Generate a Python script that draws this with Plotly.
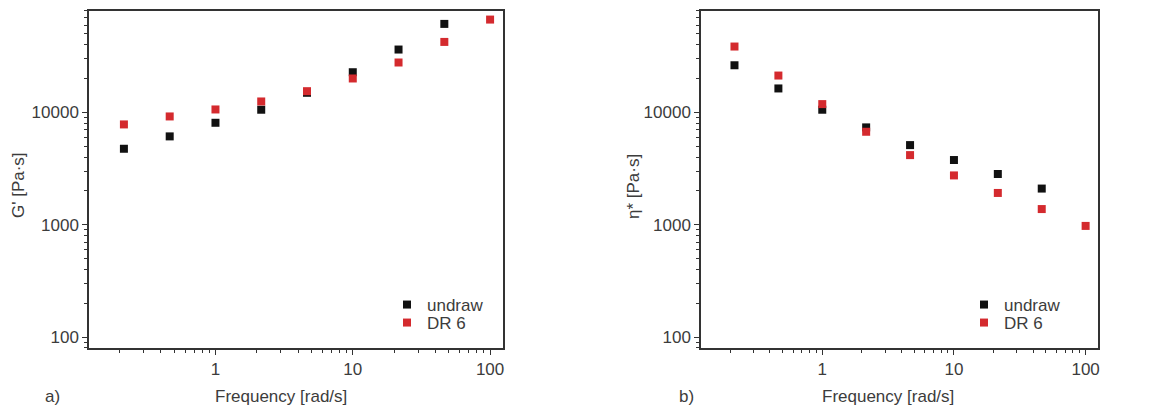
import plotly.graph_objects as go

freq = [0.2154, 0.4642, 1.0, 2.154, 4.642, 10.0, 21.54, 46.42, 100.0]
freq_undraw = freq[:8]

g_undraw = [4750, 6120, 8090, 10570, 14960, 22800, 36300, 61400]
g_dr6 = [7820, 9210, 10630, 12520, 15460, 20060, 27830, 42440, 67100]

eta_undraw = [26300, 16350, 10570, 7360, 5120, 3770, 2830, 2100]
eta_dr6 = [38600, 21300, 11860, 6730, 4170, 2750, 1920, 1380, 977]

series_names = ["undraw", "DR 6"]
y_titles = ["G' [Pa·s]", "η* [Pa·s]"]
x_title = "Frequency [rad/s]"
panel_labels = ["a)", "b)"]

BLACK = "#111111"
RED = "#d42a2e"
TXT = "#3c3c3c"
AX = "#333333"
FONT = "Liberation Sans, Arial, sans-serif"
FS = 17

W, H = 1160, 407

fig = go.Figure()

def add(x, y, name, color, xa, ya, legend):
    fig.add_trace(go.Scatter(
        x=x, y=y, mode="markers", name=name,
        marker=dict(symbol="square", size=8, color=color, line=dict(width=0)),
        xaxis=xa, yaxis=ya, legend=legend, showlegend=True))

add(freq_undraw, g_undraw, series_names[0], BLACK, "x", "y", "legend")
add(freq, g_dr6, series_names[1], RED, "x", "y", "legend2")
add(freq_undraw, eta_undraw, series_names[0], BLACK, "x2", "y2", "legend3")
add(freq, eta_dr6, series_names[1], RED, "x2", "y2", "legend4")

xdom1 = [89/W, 503/W]
xdom2 = [701/W, 1098/W]
ydom = [1 - 348/H, 1 - 11/H]

common = dict(
    type="log", showline=True, linecolor=AX, linewidth=1.5, mirror=True,
    ticks="outside", ticklen=5, tickwidth=1.2, tickcolor=AX,
    dtick=1, tickformat="d",
    minor=dict(ticks="outside", ticklen=3, tickwidth=1, tickcolor=AX, dtick="D1", showgrid=False),
    showgrid=False, zeroline=False, automargin=False,
    tickfont=dict(family=FONT, size=FS, color=TXT),
)

def xaxis(dom, anchor):
    return dict(domain=dom, anchor=anchor, range=[-0.921, 2.094], **common)

def yaxis(dom, anchor):
    return dict(domain=dom, anchor=anchor, range=[1.903, 4.903], **common)

def legend(xpix, ypix):
    return dict(
        x=xpix/W, xanchor="left", y=1 - ypix/H, yanchor="middle",
        bgcolor="rgba(0,0,0,0)", borderwidth=0, itemwidth=30,
        font=dict(family=FONT, size=FS, color=TXT),
        itemclick=False, itemdoubleclick=False,
    )

def label(text, xp, yp, angle=0):
    return dict(text=text, x=xp/W, y=1 - yp/H, xref="paper", yref="paper",
                xanchor="center", yanchor="middle",
                showarrow=False, textangle=angle,
                font=dict(family=FONT, size=FS, color=TXT))

fig.update_layout(
    width=W, height=H,
    margin=dict(l=0, r=0, t=0, b=0, autoexpand=False),
    paper_bgcolor="white", plot_bgcolor="white",
    xaxis=xaxis(xdom1, "y"), yaxis=yaxis(ydom, "x"),
    xaxis2=xaxis(xdom2, "y2"), yaxis2=yaxis(ydom, "x2"),
    legend=legend(387, 305), legend2=legend(387, 323),
    legend3=legend(964, 305), legend4=legend(964, 323),
    annotations=[
        label(panel_labels[0], 52, 396),
        label(panel_labels[1], 686, 396),
        label(x_title, 281, 396),
        label(x_title, 888, 396),
        label(y_titles[0], 18, 185, -90),
        label(y_titles[1], 633, 187, -90),
    ],
)

fig.write_html("out.html", config={"displayModeBar": False},
               post_script="document.body.style.margin='0px';")
